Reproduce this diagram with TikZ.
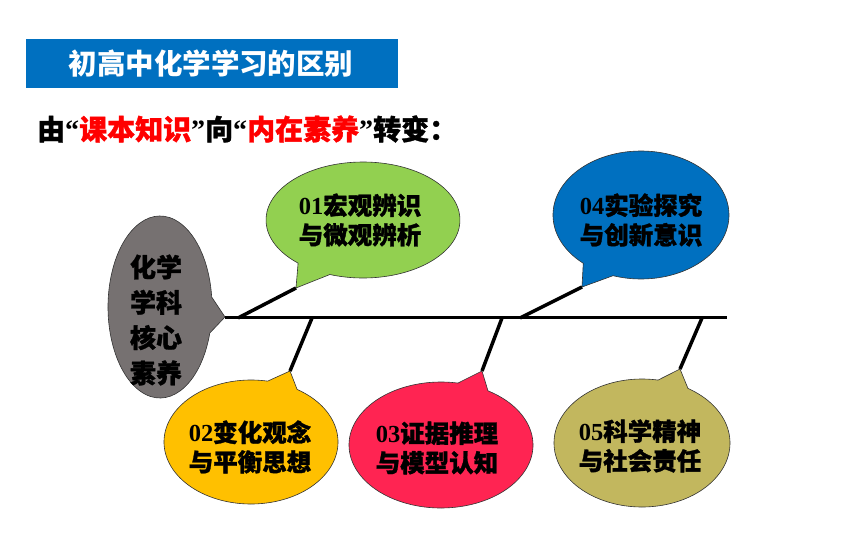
\documentclass[tikz,border=0pt]{standalone}
\usepackage{fontspec}
\setmainfont{Noto Sans CJK SC}
\newfontfamily\heavy{Noto Sans CJK SC}[BoldFeatures={FakeBold=1.2}]
\newfontfamily\tnr{Liberation Serif}
\definecolor{tblue}{HTML}{0070C0}
\definecolor{cgray}{HTML}{767171}
\definecolor{cgreen}{HTML}{92D050}
\definecolor{cblue}{HTML}{0070C0}
\definecolor{cyellow}{HTML}{FFC000}
\definecolor{cred}{HTML}{FF2452}
\definecolor{colive}{HTML}{C2B75E}
\definecolor{tred}{HTML}{FF0000}
\newcommand\mycallout[8]{%
  \fill[#1, callout] (#8) -- ({#2+#4*cos(#6)},{#3+#5*sin(#6)})
    arc[start angle=#6, end angle=#7, x radius=#4, y radius=#5] -- cycle;}
\newcommand\dg[1]{{\tnr\bfseries #1}}
\begin{document}
\begin{tikzpicture}[x=1pt,y=-1pt,line join=round]
\tikzset{
  callout/.style={draw=black!80, line width=0.6pt},
  bone/.style={line width=3.5pt, draw=black},
  spine/.style={line width=3pt, draw=black},
  lbl/.style={align=center, font=\heavy\bfseries\fontsize{24.5}{29.5}\selectfont, text=black, inner sep=0pt},
}
\useasboundingbox (0,0) rectangle (860,538);
% title bar
\fill[tblue] (26,39) rectangle (398,88);
\node[font=\bfseries\fontsize{28.5}{30}\selectfont, text=white, inner sep=0pt] (title) at (211,63.5) {初高中化学学习的区别};
% subtitle
\node[anchor=west, font=\heavy\bfseries\fontsize{28}{30}\selectfont, inner sep=0pt] (sub) at (37,129)
  {由{\tnr\bfseries “}\textcolor{tred}{课本知识}{\tnr\bfseries ”}向{\tnr\bfseries “}\textcolor{tred}{内在素养}{\tnr\bfseries ”}转变：};
% tips
\coordinate (graytip) at (225,317);
\coordinate (gtip) at (296,288);
\coordinate (btip) at (582,287);
\coordinate (ytip) at (290,371);
\coordinate (rtip) at (482,371);
\coordinate (otip) at (680,369);
% callouts
\mycallout{cgray}{160}{307}{52}{91}{16.6}{353.7}{graytip}
\mycallout{cgreen}{363}{220}{97}{58}{132}{470}{gtip}
\mycallout{cblue}{641}{215}{88}{64}{131}{468.5}{btip}
\mycallout{cyellow}{251}{442}{87}{62}{-58}{281}{ytip}
\mycallout{cred}{441}{445}{92}{63}{-59.3}{280.6}{rtip}
\mycallout{colive}{642}{443}{88}{64}{-58.5}{280.5}{otip}
% spine and bones
\coordinate (tail) at (727,317);
\coordinate (s1) at (238,318);
\coordinate (s2) at (312,318);
\coordinate (s3) at (502,318);
\coordinate (s4) at (520,318);
\coordinate (s5) at (702,318);
\draw[spine] (graytip) -- (tail);
\draw[bone] (gtip) -- (s1);
\draw[bone] (btip) -- (s4);
\draw[bone] (s2) -- (ytip);
\draw[bone] (s3) -- (rtip);
\draw[bone] (s5) -- (otip);
% labels
\node[align=center, font=\heavy\bfseries\fontsize{26}{35.3}\selectfont, inner sep=0pt] (core) at (156,320) {化学\\学科\\核心\\素养};
\node[lbl] (l1) at (360,220) {\dg{01}宏观辨识\\与微观辨析};
\node[lbl] (l4) at (641,220) {\dg{04}实验探究\\与创新意识};
\node[lbl] (l2) at (250,447) {\dg{02}变化观念\\与平衡思想};
\node[lbl] (l3) at (437,448) {\dg{03}证据推理\\与模型认知};
\node[lbl] (l5) at (640,446) {\dg{05}科学精神\\与社会责任};
\end{tikzpicture}
\end{document}
